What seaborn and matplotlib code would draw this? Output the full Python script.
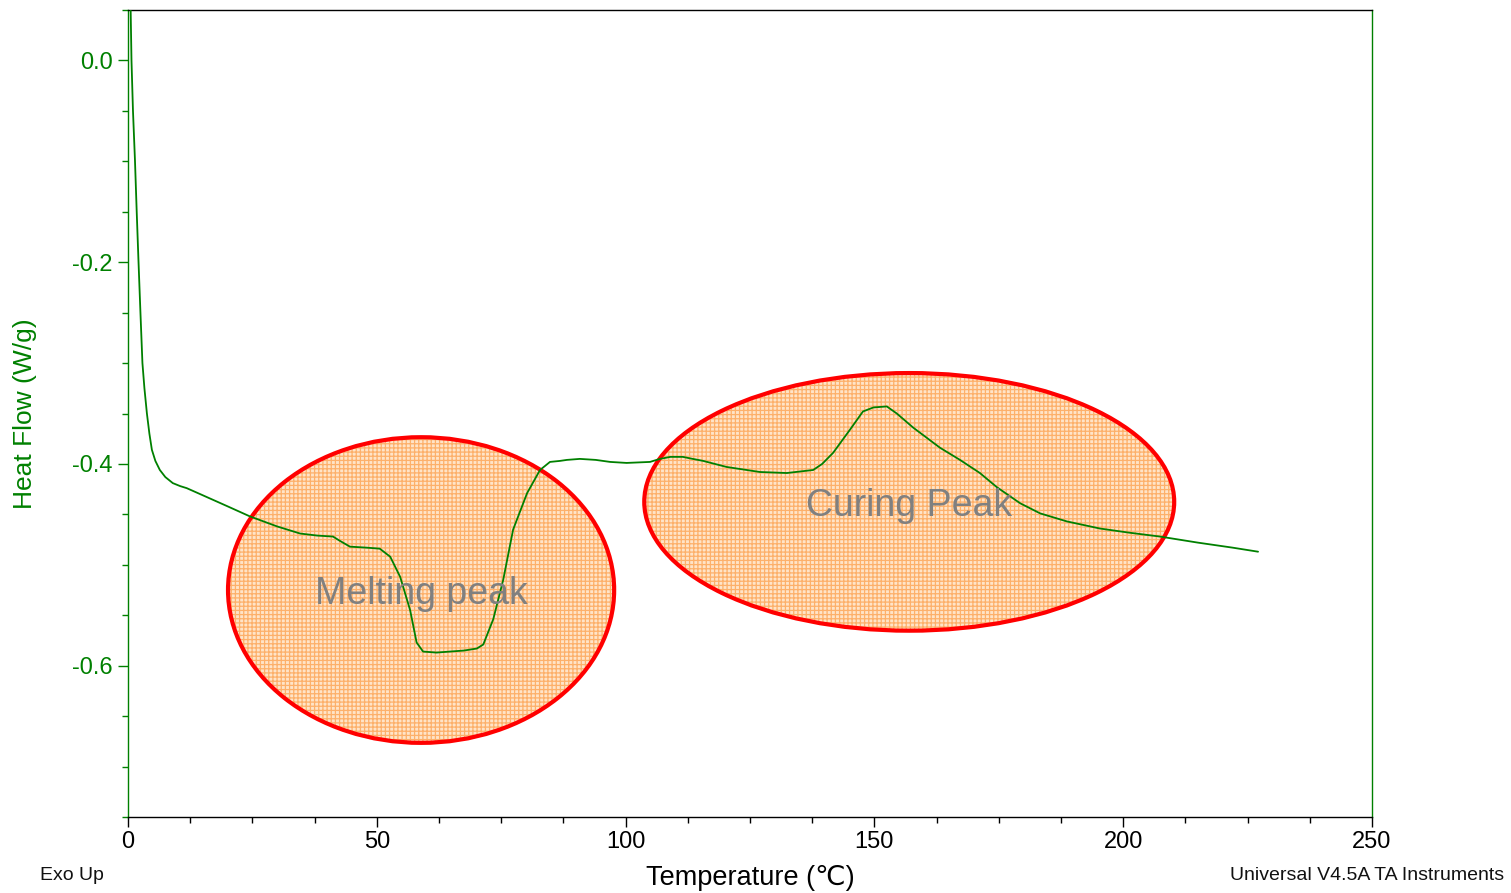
import matplotlib
matplotlib.use('Agg')
import numpy as np
import pandas as pd
import seaborn as sns
import matplotlib.pyplot as plt
from matplotlib.patches import Ellipse
from matplotlib.ticker import MultipleLocator, FormatStrFormatter

# ---- data ----
temperature = [0.5, 0.7, 1.0, 1.4, 1.75, 2.1, 2.5, 2.9, 3.3, 3.8, 4.3, 4.8, 5.5, 6.4, 7.5,
               9.0, 10.5, 11.8, 15, 20, 24.5, 30, 34.6, 38, 41.2, 42.5, 44.6, 48, 50.6,
               52.7, 54.7, 56.7, 58.0, 59.3, 62, 64.7, 67.5, 70.1, 71.4, 73.4, 75.4, 77.4,
               80.2, 82.8, 84.8, 86.8, 88.2, 90.8, 94, 96.9, 100.2, 104.9, 106.9, 109,
               111.5, 113.5, 115.6, 120.3, 127, 132.4, 137.7, 139.5, 141.7, 145.1, 147.7,
               149.8, 152.5, 154.5, 157.8, 163.2, 167.2, 171.2, 174.6, 179.3, 183.3,
               188.7, 195.3, 201, 207.4, 215, 222, 227.1]
heat_flow = [0.06, 0.0, -0.05, -0.099, -0.15, -0.198, -0.25, -0.30, -0.325, -0.35, -0.37,
             -0.386, -0.397, -0.406, -0.413, -0.419, -0.422, -0.424, -0.431, -0.442,
             -0.452, -0.462, -0.469, -0.471, -0.472, -0.476, -0.482, -0.483, -0.484,
             -0.492, -0.512, -0.545, -0.577, -0.586, -0.587, -0.586, -0.585, -0.583,
             -0.579, -0.554, -0.515, -0.465, -0.429, -0.406, -0.398, -0.397, -0.396,
             -0.395, -0.396, -0.398, -0.399, -0.398, -0.395, -0.393, -0.393, -0.395,
             -0.397, -0.403, -0.408, -0.409, -0.406, -0.400, -0.389, -0.366, -0.348,
             -0.344, -0.343, -0.350, -0.364, -0.384, -0.396, -0.409, -0.423, -0.439,
             -0.449, -0.457, -0.464, -0.468, -0.472, -0.478, -0.483, -0.487]

region_labels = ["Melting peak", "Curing Peak"]
region_centers = [(58.9, -0.525), (157.0, -0.4376)]
region_sizes = [(77.6, 0.303), (106.5, 0.2554)]

x_ticks = [0, 50, 100, 150, 200, 250]
y_ticks = [0.0, -0.2, -0.4, -0.6]

# ---- style ----
sns.set_style('white')
plt.rcParams['font.family'] = ['Liberation Sans', 'DejaVu Sans']
plt.rcParams['axes.unicode_minus'] = False
plt.rcParams['hatch.linewidth'] = 0.9

GREEN = '#008000'

fig = plt.figure(figsize=(15.11, 8.93), dpi=100)
ax = fig.add_axes([128 / 1511, 76 / 893, 1244 / 1511, 807 / 893])

df = pd.DataFrame({'Temperature': temperature, 'HeatFlow': heat_flow})
sns.lineplot(data=df, x='Temperature', y='HeatFlow', ax=ax, color=GREEN,
             linewidth=1.3, estimator=None, sort=False, zorder=5)

for (cx, cy), (w, h), lab in zip(region_centers, region_sizes, region_labels):
    fill = Ellipse((cx, cy), w, h, facecolor='#FFE4C8', edgecolor='#FDB06A',
                   linewidth=0, hatch='++++', zorder=2)
    ax.add_patch(fill)
    edge = Ellipse((cx, cy), w, h, facecolor='none', edgecolor='#FF0000',
                   linewidth=3.0, zorder=3)
    ax.add_patch(edge)
    ax.text(cx, cy - 0.004, lab, color='#808080', fontsize=27, ha='center',
            va='center', zorder=6)

ax.set_xlim(0, 250)
ax.set_ylim(-0.75, 0.05)

ax.xaxis.set_major_locator(MultipleLocator(50))
ax.xaxis.set_minor_locator(MultipleLocator(12.5))
ax.yaxis.set_major_locator(MultipleLocator(0.2))
ax.yaxis.set_minor_locator(MultipleLocator(0.05))
ax.set_xticks(x_ticks)
ax.set_yticks(y_ticks)
ax.yaxis.set_major_formatter(FormatStrFormatter('%.1f'))

ax.tick_params(axis='x', which='major', direction='out', length=7, width=1,
               color='black', labelcolor='black', labelsize=17, pad=3, bottom=True)
ax.tick_params(axis='x', which='minor', direction='out', length=4.5, width=1,
               color='black', bottom=True)
ax.tick_params(axis='y', which='major', direction='out', length=7, width=1,
               color=GREEN, labelcolor=GREEN, labelsize=17, pad=4, left=True)
ax.tick_params(axis='y', which='minor', direction='out', length=4.5, width=1,
               color=GREEN, left=True)

for side in ['left', 'right']:
    ax.spines[side].set_color(GREEN)
    ax.spines[side].set_linewidth(1.0)
for side in ['top', 'bottom']:
    ax.spines[side].set_color('black')
    ax.spines[side].set_linewidth(1.0)

ax.set_xlabel('Temperature (℃)', fontsize=19.5, color='black')
ax.set_ylabel('Heat Flow (W/g)', fontsize=19, color=GREEN)
ax.xaxis.set_label_coords(0.5, (817 - 878) / 807)
ax.xaxis.label.set_va('center')
ax.yaxis.set_label_coords((25 - 128) / 1244, 0.5)
ax.yaxis.label.set_va('center')

fig.text(40 / 1511, 1 - 875 / 893, 'Exo Up', fontsize=14, ha='left', va='center',
         color='#111111')
fig.text(1504 / 1511, 1 - 875 / 893, 'Universal V4.5A TA Instruments', fontsize=14,
         ha='right', va='center', color='#111111')

fig.savefig('out.png', dpi=100)
